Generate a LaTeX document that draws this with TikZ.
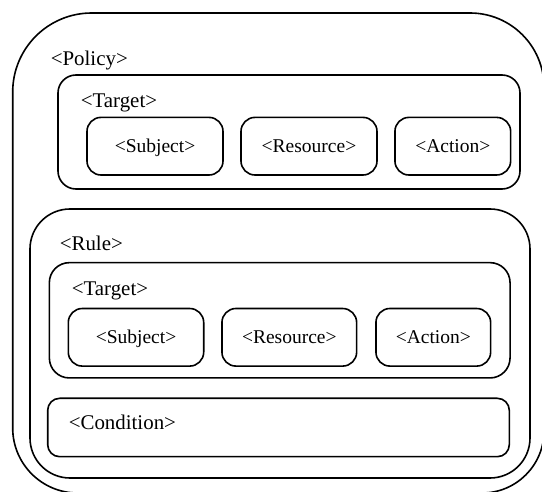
\documentclass[tikz,border=0pt]{standalone}
\usepackage{fontspec}
\setmainfont{Liberation Serif}
\begin{document}
\begin{tikzpicture}[x=1pt,y=-1pt,line width=1.6pt,
  cont/.style={draw,inner sep=0pt,rounded corners=#1},
  clabel/.style={anchor=base west,inner sep=0pt,font=\fontsize{20.9}{24}\selectfont},
  leaf/.style={draw,rounded corners=14pt,inner sep=0pt,minimum height=57.6pt,
    text height=13pt,text depth=0.2pt,font=\fontsize{19.5}{22}\selectfont}]
\useasboundingbox (0,0) rectangle (542,492);
% outer policy boundary
\draw (12.7,428) -- (12.7,92) arc[start angle=180,end angle=270,radius=79]
  -- (470,13) arc[start angle=270,end angle=360,radius=74]
  -- (544,431) arc[start angle=0,end angle=90,radius=62]
  -- (77.7,493) arc[start angle=90,end angle=180,radius=65] -- cycle;
\node[clabel] (policy) at (50,66) {<Policy>};
% policy target
\node[cont=18pt,minimum width=462pt,minimum height=114pt] (ptarget) at (289,132) {};
\node[clabel] (ptargetl) at (80,108) {<Target>};
\node[leaf,minimum width=136pt] (psubj) at (155,146.2) {<Subject>};
\node[leaf,minimum width=136pt] (pres) at (309,146.2) {<Resource>};
\node[leaf,minimum width=115.7pt] (pact) at (452.8,146.2) {<Action>};
% rule
\node[cont=40pt,minimum width=500pt,minimum height=269pt] (rule) at (280,343.5) {};
\node[clabel] (rulel) at (59,251) {<Rule>};
\node[cont=20pt,minimum width=460.7pt,minimum height=115.3pt] (rtarget) at (279.7,320.3) {};
\node[clabel] (rtargetl) at (71,296) {<Target>};
\node[leaf,minimum width=135.4pt] (rsubj) at (136,337.3) {<Subject>};
\node[leaf,minimum width=134.7pt] (rres) at (289.3,337.3) {<Resource>};
\node[leaf,minimum width=114.7pt] (ract) at (433.3,337.3) {<Action>};
\node[cont=12pt,minimum width=461.6pt,minimum height=58.4pt] (cond) at (278.5,427.5) {};
\node[clabel] (condl) at (68,430) {<Condition>};
\end{tikzpicture}
\end{document}
